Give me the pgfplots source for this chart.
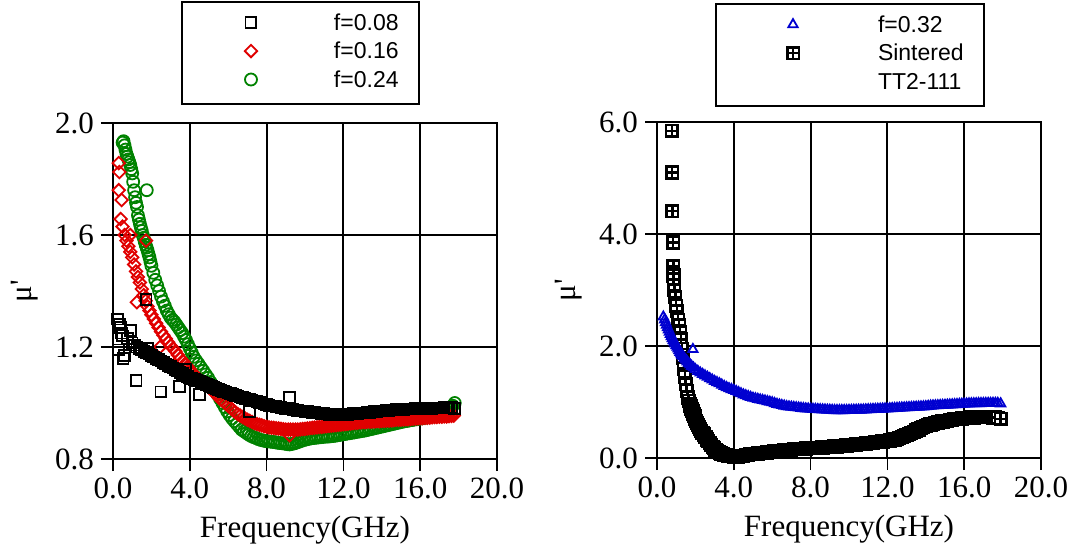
\documentclass[border=0pt]{standalone}
\usepackage{fontspec}
\setmainfont{Liberation Serif}
\newfontfamily\legfont{Liberation Sans}
\newfontfamily\qfont[Ligatures=TeXOff]{Liberation Serif}
\usepackage{pgfplots}
\pgfplotsset{compat=1.18}
\definecolor{mured}{HTML}{E00000}
\definecolor{mugreen}{HTML}{008200}
\definecolor{mublue}{HTML}{0000D0}

% black square with a cross: the "Sintered" marker
\pgfdeclareplotmark{boxplus}{%
  \pgfpathrectangle{\pgfpoint{-\pgfplotmarksize}{-\pgfplotmarksize}}{\pgfpoint{2\pgfplotmarksize}{2\pgfplotmarksize}}%
  \pgfpathmoveto{\pgfpoint{-\pgfplotmarksize}{0pt}}\pgfpathlineto{\pgfpoint{\pgfplotmarksize}{0pt}}%
  \pgfpathmoveto{\pgfpoint{0pt}{-\pgfplotmarksize}}\pgfpathlineto{\pgfpoint{0pt}{\pgfplotmarksize}}%
  \pgfusepathqfillstroke}

\pgfplotsset{
  muaxis/.style={
    scale only axis, width=192pt, height=168pt,
    xmin=0, xmax=20, xtick={0,4,...,20},
    grid=major, major grid style={black, line width=1pt},
    axis line style={line width=1.1pt},
    tick style={black, line width=0.8pt}, tick align=outside, major tick length=6pt,
    xtick pos=bottom, ytick pos=left,
    ticklabel style={font=\fontsize{15.5}{18}\selectfont},
    /pgf/number format/.cd, fixed, fixed zerofill, precision=1, assume math mode=true, /pgfplots/.cd,
    label style={font=\fontsize{15.5}{18}\selectfont},
    xlabel={Frequency(GHz)}, ylabel={\qfont μ'},
    xlabel style={at={(axis description cs:0.5,-0.211)}, anchor=center},
    ylabel style={at={(axis description cs:-0.229,0.5)}, anchor=center},
    legend cell align=left,
    legend style={draw=black, line width=1pt, anchor=south west,
      inner xsep=10pt, inner ysep=6pt, row sep=3.75pt,
      font=\legfont\fontsize{11.5}{13}\selectfont,
      nodes={inner sep=0pt, text height=8pt, text depth=2.5pt}},
  },
  sq/.style={only marks, mark=square, mark size=2.7pt, line width=0.9pt, draw=black, mark options={solid}},
  dm/.style={only marks, mark=square, mark size=2.2pt, line width=0.9pt, draw=mured, mark options={solid, rotate=45}},
  ci/.style={only marks, mark=o, mark size=3.0pt, line width=0.9pt, draw=mugreen, mark options={solid}},
  tr/.style={only marks, mark=triangle, mark size=2.7pt, line width=0.9pt, draw=mublue, mark options={solid}},
  bp/.style={only marks, mark=boxplus, mark size=2.9pt, line width=1.3pt, draw=black, fill=white, mark options={solid}},
}

\begin{document}
\begin{tikzpicture}
\begin{axis}[muaxis,
  ymin=0.8, ymax=2.0, ytick={0.8,1.2,1.6,2.0},
  legend style={at={(axis description cs:0,1)}, xshift=34pt, yshift=9pt},
  legend image code/.code={\draw[#1] plot coordinates {(24.5pt,1pt)}; \path[draw=none,fill=none] (0pt,0pt) -- (66pt,0pt);},
]
\addlegendimage{sq}\addlegendentry{f=0.08}
\addlegendimage{dm}\addlegendentry{f=0.16}
\addlegendimage{ci}\addlegendentry{f=0.24}

% f=0.24
\addplot[ci, forget plot] coordinates {
(0.5,1.93) (0.55,1.935) (0.6,1.92) (0.65,1.905) (0.7,1.89) (0.75,1.88) (0.8,1.87)
(0.85,1.86) (0.9,1.85) (0.95,1.835) (1.0,1.82) (1.05,1.79) (1.1,1.76) (1.15,1.735)
(1.2,1.715) (1.25,1.70) (1.3,1.67) (1.35,1.655) (1.4,1.64) (1.45,1.627) (1.5,1.615)
(1.55,1.60) (1.6,1.59) (1.65,1.577) (1.7,1.565) (1.76,1.76) (1.75,1.555) (1.8,1.545)
(1.85,1.532) (1.9,1.52) (1.95,1.505) (2.0,1.49) (2.1,1.465) (2.2,1.44) (2.3,1.42)
(2.4,1.40) (2.5,1.38) (2.6,1.363) (2.7,1.347) (2.8,1.33) (2.9,1.317) (3.0,1.305)
(3.1,1.297) (3.2,1.29) (3.3,1.28) (3.4,1.27) (3.5,1.26) (3.6,1.25) (3.7,1.237)
(3.8,1.225) (3.9,1.21) (4.0,1.195) (4.1,1.18) (4.2,1.165) (4.325,1.152) (4.45,1.14)
(4.575,1.127) (4.7,1.115) (4.825,1.102) (4.95,1.09) (5.075,1.075) (5.2,1.06)
(5.325,1.045) (5.45,1.03) (5.575,1.015) (5.7,1.0) (5.825,0.985) (5.95,0.97)
(6.075,0.957) (6.2,0.945) (6.325,0.935) (6.45,0.925) (6.575,0.915) (6.7,0.905)
(6.825,0.899) (6.95,0.893) (7.075,0.887) (7.2,0.882) (7.325,0.878) (7.45,0.875)
(7.575,0.871) (7.7,0.868) (7.825,0.866) (7.95,0.864) (8.075,0.863) (8.2,0.862)
(8.325,0.861) (8.45,0.86) (8.575,0.858) (8.7,0.857) (8.825,0.856) (8.95,0.855)
(9.075,0.853) (9.2,0.852) (9.325,0.854) (9.45,0.856) (9.575,0.859) (9.7,0.862)
(9.825,0.865) (9.95,0.868) (10.075,0.87) (10.2,0.872) (10.325,0.874) (10.45,0.875)
(10.575,0.876) (10.7,0.877) (10.825,0.878) (10.95,0.879) (11.075,0.88) (11.2,0.88)
(11.325,0.881) (11.45,0.882) (11.575,0.883) (11.7,0.885) (11.825,0.886) (11.95,0.888)
(12.075,0.889) (12.2,0.891) (12.325,0.892) (12.45,0.894) (12.575,0.895) (12.7,0.897)
(12.825,0.898) (12.95,0.9) (13.075,0.901) (13.2,0.903) (13.325,0.905) (13.45,0.907)
(13.575,0.909) (13.7,0.911) (13.825,0.913) (13.95,0.915) (14.075,0.917) (14.2,0.919)
(14.325,0.921) (14.45,0.923) (14.575,0.925) (14.7,0.927) (14.825,0.929) (14.95,0.931)
(15.075,0.933) (15.2,0.935) (15.325,0.936) (15.45,0.938) (15.575,0.939) (15.7,0.941)
(15.825,0.942) (15.95,0.944) (16.075,0.945) (16.2,0.947) (16.325,0.948) (16.45,0.95)
(16.575,0.951) (16.7,0.953) (16.825,0.955) (16.95,0.957) (17.075,0.959) (17.2,0.962)
(17.325,0.965) (17.45,0.968) (17.55,0.975) (17.6,0.98) (17.7,0.99) (17.8,1.0)
};
% f=0.16
\addplot[dm, forget plot] coordinates {
(0.3,1.857) (0.33,1.825) (0.3,1.76) (0.45,1.725) (0.4,1.657) (0.5,1.63)
(0.6,1.60) (0.7,1.58) (0.8,1.56) (0.9,1.6) (0.9,1.54) (1.0,1.52) (1.1,1.495)
(1.2,1.47) (1.24,1.36) (1.3,1.45) (1.4,1.43) (1.5,1.407) (1.6,1.385) (1.72,1.58)
(1.7,1.365) (1.8,1.345) (1.9,1.33) (2.0,1.315) (2.125,1.30) (2.25,1.285)
(2.375,1.27) (2.45,1.20) (2.5,1.255) (2.625,1.242) (2.75,1.23) (2.875,1.217)
(3.0,1.205) (3.125,1.195) (3.25,1.185) (3.375,1.172) (3.5,1.16) (3.625,1.15)
(3.75,1.14) (3.875,1.13) (4.0,1.12) (4.125,1.11) (4.25,1.10) (4.375,1.092)
(4.5,1.085) (4.625,1.077) (4.75,1.07) (4.875,1.062) (5.0,1.055) (5.125,1.047)
(5.25,1.04) (5.375,1.03) (5.5,1.02) (5.625,1.012) (5.75,1.005) (5.875,0.997)
(6.0,0.99) (6.125,0.982) (6.25,0.975) (6.375,0.967) (6.5,0.96) (6.625,0.955)
(6.75,0.95) (6.875,0.945) (7.0,0.94) (7.125,0.936) (7.25,0.932) (7.375,0.928)
(7.5,0.925) (7.625,0.922) (7.75,0.92) (7.875,0.917) (8.0,0.915) (8.125,0.913)
(8.25,0.912) (8.375,0.911) (8.5,0.91) (8.625,0.909) (8.75,0.908) (8.875,0.906)
(9.0,0.905) (9.125,0.905) (9.2,0.885) (9.25,0.905) (9.375,0.905) (9.5,0.905)
(9.625,0.905) (9.75,0.906) (9.875,0.907) (10.0,0.908) (10.125,0.909) (10.25,0.91)
(10.375,0.911) (10.5,0.912) (10.625,0.913) (10.75,0.914) (10.875,0.915) (11.0,0.916)
(11.125,0.917) (11.25,0.918) (11.375,0.919) (11.5,0.92) (11.625,0.921) (11.75,0.922)
(11.875,0.923) (12.0,0.924) (12.125,0.925) (12.25,0.926) (12.375,0.927) (12.5,0.928)
(12.625,0.929) (12.75,0.93) (12.875,0.931) (13.0,0.932) (13.125,0.932) (13.25,0.933)
(13.375,0.933) (13.5,0.934) (13.625,0.934) (13.75,0.935) (13.875,0.935) (14.0,0.936)
(14.125,0.936) (14.25,0.937) (14.375,0.937) (14.5,0.938) (14.625,0.939) (14.75,0.94)
(14.875,0.94) (15.0,0.941) (15.125,0.941) (15.25,0.942) (15.375,0.942) (15.5,0.943)
(15.625,0.944) (15.75,0.945) (15.875,0.945) (16.0,0.946) (16.125,0.946) (16.25,0.947)
(16.375,0.947) (16.5,0.948) (16.625,0.949) (16.75,0.95) (16.875,0.95) (17.0,0.951)
(17.125,0.951) (17.25,0.952) (17.375,0.952) (17.5,0.953) (17.625,0.954) (17.75,0.955)
};
% f=0.08
\addplot[sq, forget plot] coordinates {
(0.25,1.30) (0.35,1.28) (0.4,1.27) (0.3,1.19) (0.45,1.25) (0.53,1.16) (0.6,1.17)
(0.5,1.24) (0.75,1.23) (0.9,1.26) (1.0,1.215) (1.125,1.207) (1.2,1.08) (1.25,1.20)
(1.375,1.195) (1.5,1.19) (1.625,1.185) (1.72,1.37) (1.75,1.18) (1.8,1.195)
(1.875,1.175) (2.0,1.17) (2.125,1.165) (2.25,1.16) (2.375,1.155) (2.5,1.04)
(2.5,1.15) (2.625,1.145) (2.75,1.14) (2.875,1.135) (3.0,1.13) (3.125,1.125)
(3.25,1.12) (3.375,1.115) (3.45,1.06) (3.5,1.11) (3.625,1.105) (3.75,1.10)
(3.8,1.12) (3.875,1.095) (4.0,1.09) (4.125,1.087) (4.25,1.085) (4.375,1.081)
(4.5,1.03) (4.5,1.078) (4.625,1.074) (4.75,1.07) (4.875,1.066) (5.0,1.063)
(5.125,1.059) (5.25,1.055) (5.375,1.051) (5.5,1.048) (5.625,1.045) (5.75,1.042)
(5.875,1.039) (6.0,1.036) (6.125,1.033) (6.25,1.03) (6.375,1.027) (6.5,1.025)
(6.625,1.022) (6.75,1.02) (6.875,1.017) (7.0,1.015) (7.1,0.97) (7.125,1.012)
(7.25,1.01) (7.375,1.007) (7.5,1.005) (7.625,1.002) (7.75,1.0) (7.875,0.997)
(8.0,0.995) (8.125,0.992) (8.25,0.99) (8.375,0.989) (8.5,0.988) (8.625,0.986)
(8.75,0.985) (8.875,0.982) (9.0,0.98) (9.125,0.979) (9.2,1.02) (9.25,0.978)
(9.375,0.976) (9.5,0.975) (9.625,0.973) (9.75,0.972) (9.875,0.971) (10.0,0.97)
(10.125,0.969) (10.25,0.968) (10.375,0.967) (10.5,0.966) (10.625,0.965) (10.75,0.964)
(10.875,0.963) (11.0,0.962) (11.125,0.961) (11.25,0.96) (11.375,0.96) (11.5,0.96)
(11.625,0.96) (11.75,0.96) (11.875,0.96) (12.0,0.96) (12.125,0.96) (12.25,0.96)
(12.375,0.961) (12.5,0.962) (12.625,0.962) (12.75,0.963) (12.875,0.964) (13.0,0.965)
(13.125,0.965) (13.25,0.966) (13.375,0.967) (13.5,0.968) (13.625,0.969) (13.75,0.97)
(13.875,0.971) (14.0,0.972) (14.125,0.972) (14.25,0.973) (14.375,0.974) (14.5,0.975)
(14.625,0.975) (14.75,0.976) (14.875,0.976) (15.0,0.977) (15.125,0.977) (15.25,0.978)
(15.375,0.978) (15.5,0.979) (15.625,0.979) (15.75,0.98) (15.875,0.98) (16.0,0.98)
(16.125,0.98) (16.25,0.98) (16.375,0.98) (16.5,0.981) (16.625,0.981) (16.75,0.982)
(16.875,0.982) (17.0,0.982) (17.125,0.982) (17.25,0.983) (17.375,0.983) (17.5,0.983)
(17.625,0.983) (17.8,0.98)
};
\end{axis}

\begin{axis}[muaxis, at={(272pt,0.5pt)}, anchor=south west,
  ymin=0, ymax=6, ytick={0,2,4,6},
  legend style={at={(axis description cs:0,1)}, xshift=29pt, yshift=7.5pt},
  legend image code/.code={\draw[#1] plot coordinates {(28.5pt,1pt)}; \path[draw=none,fill=none] (0pt,0pt) -- (71pt,0pt);},
]
\addlegendimage{tr}\addlegendentry{f=0.32}
\addlegendimage{bp}\addlegendentry{Sintered}
\addlegendimage{empty legend}\addlegendentry{TT2-111}

% Sintered TT2-111
\addplot[bp, forget plot] coordinates {
(0.78,5.84) (0.79,5.10) (0.80,4.41) (0.84,3.85) (0.85,3.42) (0.86,3.26) (0.87,3.19)
(0.9,3.0) (0.95,2.87) (1.0,2.72) (1.04,2.62) (1.1,2.47) (1.15,2.37) (1.2,2.25)
(1.25,2.12) (1.3,1.95) (1.35,1.78) (1.4,1.60) (1.45,1.45) (1.5,1.32) (1.55,1.20)
(1.6,1.08) (1.65,1.02) (1.7,0.97) (1.75,0.925) (1.8,0.88) (1.85,0.835) (1.9,0.79)
(1.95,0.745) (2.0,0.70) (2.05,0.66) (2.1,0.62) (2.15,0.585) (2.2,0.55) (2.25,0.515)
(2.3,0.48) (2.375,0.45) (2.45,0.42) (2.525,0.375) (2.6,0.33) (2.675,0.30) (2.75,0.27)
(2.825,0.235) (2.9,0.20) (2.975,0.175) (3.05,0.15) (3.125,0.13) (3.2,0.11)
(3.275,0.095) (3.35,0.08) (3.425,0.07) (3.5,0.06) (3.6,0.05) (3.7,0.04) (3.8,0.035)
(3.9,0.03) (4.0,0.025) (4.1,0.02) (4.2,0.025) (4.3,0.03) (4.4,0.035) (4.5,0.04)
(4.625,0.05) (4.75,0.06) (4.875,0.065) (5.0,0.07) (5.125,0.075) (5.25,0.08)
(5.375,0.085) (5.5,0.09) (5.625,0.095) (5.75,0.10) (5.875,0.105) (6.0,0.11)
(6.125,0.115) (6.25,0.12) (6.375,0.125) (6.5,0.13) (6.625,0.135) (6.75,0.14)
(6.875,0.145) (7.0,0.15) (7.125,0.155) (7.25,0.16) (7.375,0.162) (7.5,0.165)
(7.625,0.167) (7.75,0.17) (7.875,0.172) (8.0,0.175) (8.125,0.177) (8.25,0.18)
(8.375,0.182) (8.5,0.185) (8.625,0.187) (8.75,0.19) (8.875,0.195) (9.0,0.20)
(9.125,0.202) (9.25,0.205) (9.375,0.207) (9.5,0.21) (9.625,0.215) (9.75,0.22)
(9.875,0.225) (10.0,0.23) (10.125,0.232) (10.25,0.235) (10.375,0.24) (10.5,0.245)
(10.625,0.25) (10.75,0.255) (10.875,0.26) (11.0,0.265) (11.125,0.27) (11.25,0.275)
(11.375,0.28) (11.5,0.285) (11.625,0.29) (11.75,0.295) (11.875,0.30) (12.0,0.305)
(12.125,0.312) (12.25,0.32) (12.375,0.33) (12.5,0.34) (12.625,0.355) (12.75,0.37)
(12.875,0.39) (13.0,0.41) (13.125,0.43) (13.25,0.45) (13.375,0.47) (13.5,0.49)
(13.625,0.51) (13.75,0.53) (13.875,0.55) (14.0,0.57) (14.125,0.585) (14.25,0.60)
(14.375,0.612) (14.5,0.625) (14.625,0.635) (14.75,0.645) (14.875,0.652) (15.0,0.66)
(15.125,0.667) (15.25,0.675) (15.375,0.682) (15.5,0.69) (15.625,0.695) (15.75,0.70)
(15.875,0.705) (16.0,0.71) (16.125,0.715) (16.25,0.72) (16.375,0.722) (16.5,0.725)
(16.625,0.727) (16.75,0.73) (16.875,0.73) (17.0,0.73) (17.125,0.73) (17.25,0.73)
(17.375,0.727) (17.5,0.725) (17.625,0.722) (17.75,0.72) (17.9,0.70)
};
% f=0.32
\addplot[tr, forget plot] coordinates {
(0.33,2.52) (0.4,2.47) (0.45,2.42) (0.5,2.375) (0.55,2.33) (0.6,2.29) (0.65,2.25)
(0.7,2.21) (0.75,2.17) (0.8,2.135) (0.85,2.10) (0.9,2.07) (0.95,2.04) (1.0,2.01)
(1.05,1.98) (1.1,1.95) (1.15,1.92) (1.2,1.89) (1.25,1.86) (1.3,1.835) (1.36,1.81)
(1.43,1.78) (1.5,1.75) (1.575,1.72) (1.65,1.69) (1.725,1.665) (1.8,1.64) (1.87,1.94)
(1.9,1.61) (2.0,1.58) (2.125,1.55) (2.25,1.52) (2.375,1.495) (2.5,1.47) (2.625,1.445)
(2.75,1.42) (2.875,1.395) (3.0,1.37) (3.125,1.35) (3.25,1.33) (3.375,1.305) (3.5,1.28)
(3.625,1.26) (3.75,1.24) (3.875,1.225) (4.0,1.21) (4.125,1.19) (4.25,1.17)
(4.375,1.15) (4.5,1.13) (4.625,1.115) (4.75,1.10) (4.875,1.085) (5.0,1.07)
(5.125,1.06) (5.25,1.05) (5.375,1.04) (5.5,1.03) (5.625,1.02) (5.75,1.01)
(5.875,1.0) (6.0,0.99) (6.125,0.975) (6.25,0.96) (6.375,0.95) (6.5,0.94)
(6.625,0.93) (6.75,0.92) (6.875,0.915) (7.0,0.91) (7.125,0.905) (7.25,0.90)
(7.375,0.895) (7.5,0.89) (7.625,0.885) (7.75,0.88) (7.875,0.877) (8.0,0.875)
(8.125,0.872) (8.25,0.87) (8.375,0.867) (8.5,0.865) (8.625,0.862) (8.75,0.86)
(8.875,0.857) (9.0,0.855) (9.125,0.852) (9.25,0.85) (9.375,0.85) (9.5,0.85)
(9.625,0.85) (9.75,0.85) (9.875,0.851) (10.0,0.852) (10.125,0.853) (10.25,0.855)
(10.375,0.856) (10.5,0.858) (10.625,0.859) (10.75,0.86) (10.875,0.862) (11.0,0.865)
(11.125,0.866) (11.25,0.868) (11.375,0.87) (11.5,0.872) (11.625,0.874) (11.75,0.876)
(11.875,0.878) (12.0,0.88) (12.125,0.882) (12.25,0.885) (12.375,0.887) (12.5,0.89)
(12.625,0.892) (12.75,0.895) (12.875,0.897) (13.0,0.9) (13.125,0.902) (13.25,0.905)
(13.375,0.907) (13.5,0.91) (13.625,0.912) (13.75,0.915) (13.875,0.917) (14.0,0.92)
(14.125,0.925) (14.25,0.93) (14.375,0.932) (14.5,0.935) (14.625,0.937) (14.75,0.94)
(14.875,0.942) (15.0,0.945) (15.125,0.947) (15.25,0.95) (15.375,0.952) (15.5,0.955)
(15.625,0.957) (15.75,0.96) (15.875,0.962) (16.0,0.965) (16.125,0.967) (16.25,0.97)
(16.375,0.971) (16.5,0.972) (16.625,0.973) (16.75,0.975) (16.875,0.975) (17.0,0.976)
(17.125,0.976) (17.25,0.977) (17.375,0.977) (17.5,0.978) (17.625,0.978) (17.75,0.978)
(17.9,0.97)
};
\end{axis}
\pgfresetboundingbox
\useasboundingbox (-56.5pt,-47.5pt) rectangle (482.5pt,229.5pt);
\end{tikzpicture}
\end{document}
